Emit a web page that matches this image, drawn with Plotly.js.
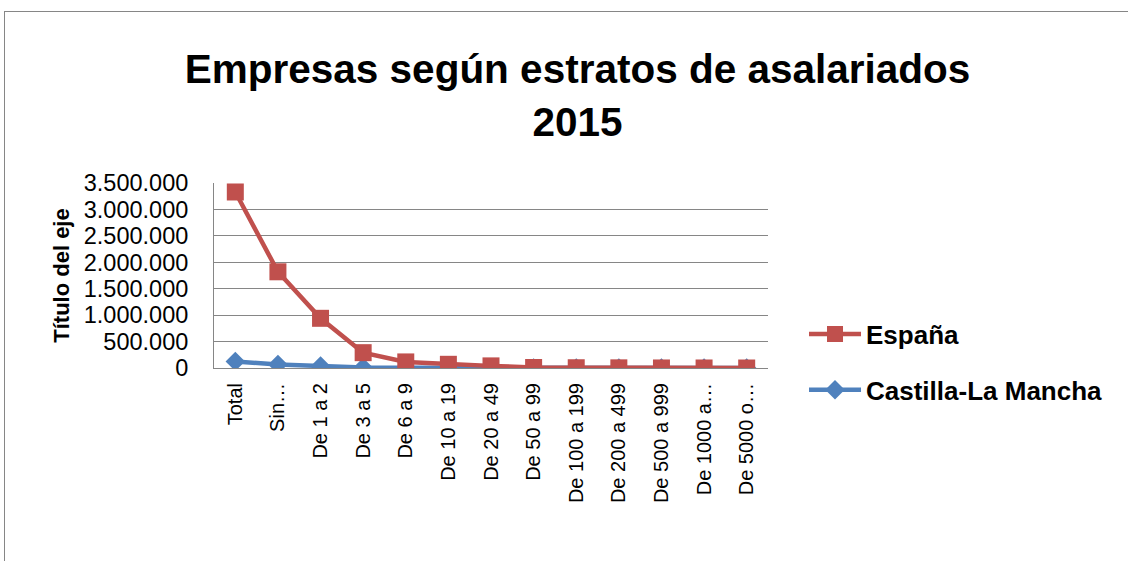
<!DOCTYPE html>
<html>
<head>
<meta charset="utf-8">
<script src="https://cdn.plot.ly/plotly-3.0.1.min.js"></script>
<style>
  html, body { margin: 0; padding: 0; background: #fff; overflow: hidden; }
  #frame { position: absolute; left: 4px; top: 11px; width: 1140px; height: 570px; border: 1.5px solid #868686; box-sizing: border-box; }
  #chart { position: absolute; left: 0; top: 0; width: 1128px; height: 561px; }
</style>
</head>
<body>
<div id="frame"></div>
<div id="chart"></div>
<script>
const categories = ["Total", "Sin…", "De 1 a 2", "De 3 a 5", "De 6 a 9", "De 10 a 19", "De 20 a 49",
  "De 50 a 99", "De 100 a 199", "De 200 a 499", "De 500 a 999", "De 1000 a…", "De 5000 o…"];
const espana = [3330000, 1820000, 940000, 290000, 115000, 70000, 40000, 10000, 5000, 3000, 800, 300, 50];
const castillaLaMancha = [125000, 65000, 38000, 10000, 4500, 3000, 1800, 400, 200, 100, 30, 10, 2];
const yTickVals = [0, 500000, 1000000, 1500000, 2000000, 2500000, 3000000, 3500000];

const FONT = "Liberation Sans, Arial, sans-serif";

const traces = [
  {
    x: categories, y: castillaLaMancha, name: "Castilla-La Mancha", type: "scatter", mode: "lines+markers",
    line: { color: "#4F81BD", width: 4.5 },
    marker: { symbol: "diamond", size: 15, color: "#4F81BD" },
    legendgroup: "b", legendrank: 2
  },
  {
    x: categories, y: espana, name: "España", type: "scatter", mode: "lines+markers",
    line: { color: "#C0504D", width: 4.5 },
    marker: { symbol: "square", size: 17, color: "#C0504D" },
    legendgroup: "a", legendrank: 1
  }
];

const layout = {
  width: 1128, height: 561,
  paper_bgcolor: "rgba(0,0,0,0)", plot_bgcolor: "rgba(0,0,0,0)",
  separators: ",.",
  margin: { l: 214, r: 360, t: 183, b: 193, pad: 0 },
  title: {
    text: "<b>Empresas según estratos de asalariados<br>2015</b>",
    font: { family: FONT, size: 40.5, color: "#000" },
    x: 0.512, xanchor: "center", y: 0.852, yanchor: "top"
  },
  showlegend: true,
  legend: {
    x: 1.065, xanchor: "left", y: 0.31, yanchor: "top",
    traceorder: "grouped", tracegroupgap: 19,
    font: { family: FONT, size: 26, color: "#000", weight: "bold" },
    itemwidth: 52
  },
  xaxis: {
    type: "category", range: [-0.5, 12.5],
    tickangle: -90, tickfont: { family: FONT, size: 20, color: "#000" },
    showgrid: false, showline: true, linecolor: "#868686", linewidth: 1,
    ticks: "outside", ticklen: 6, tickcolor: "rgba(0,0,0,0)", automargin: false
  },
  yaxis: {
    range: [0, 3500000], tickvals: yTickVals, tickformat: ",d",
    tickfont: { family: FONT, size: 23.5, color: "#000" },
    showgrid: true, gridcolor: "#868686", gridwidth: 1,
    showline: true, linecolor: "#868686", linewidth: 1, zeroline: false,
    ticks: "outside", ticklen: 20, tickcolor: "rgba(0,0,0,0)",
    title: { text: "<b>Título del eje</b>", font: { family: FONT, size: 22, color: "#000" }, standoff: 8 },
    automargin: false
  }
};

Plotly.newPlot("chart", traces, layout, { displayModeBar: false, staticPlot: true });
</script>
</body>
</html>
